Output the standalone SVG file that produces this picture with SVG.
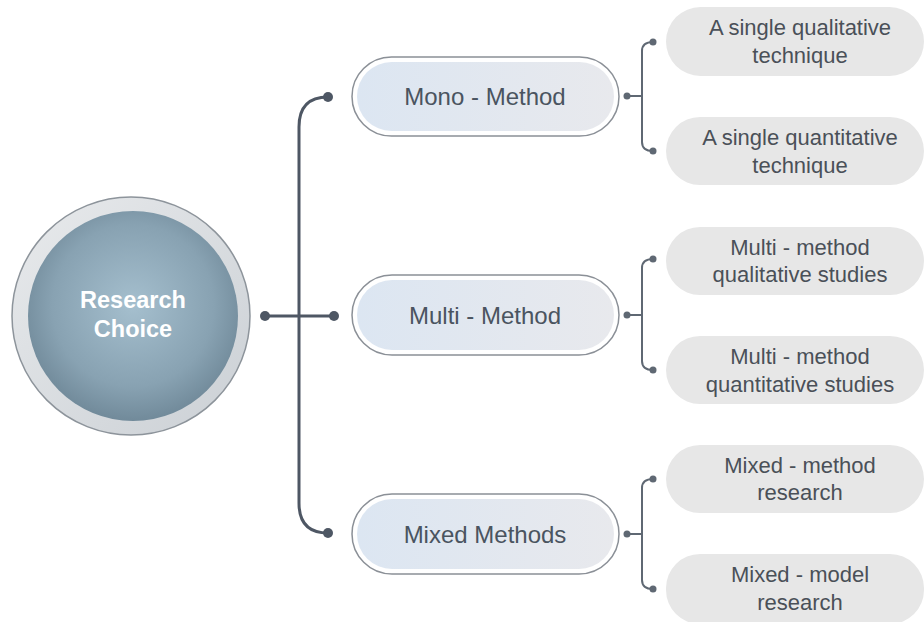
<svg xmlns="http://www.w3.org/2000/svg" width="924" height="622" viewBox="0 0 924 622">
<defs>
<radialGradient id="core" cx="0.5" cy="0.45" r="0.55">
<stop offset="0" stop-color="#a5bfce"/>
<stop offset="0.7" stop-color="#88a2b2"/>
<stop offset="1" stop-color="#718a9a"/>
</radialGradient>
<linearGradient id="ring" x1="0" y1="0" x2="1" y2="1">
<stop offset="0" stop-color="#e8eaec"/>
<stop offset="1" stop-color="#cbd0d5"/>
</linearGradient>
<linearGradient id="pill" x1="0" y1="0" x2="1" y2="0">
<stop offset="0" stop-color="#dce6f2"/>
<stop offset="1" stop-color="#e8e9ed"/>
</linearGradient>
<style>
.main{fill:none;stroke:#4e5764;stroke-width:3}
.dot{fill:#4e5764}
.br{fill:none;stroke:#5f6873;stroke-width:2}
.bdot{fill:#5f6873}
.po{fill:#ffffff;stroke:#8b9097;stroke-width:1.5}
.pi{fill:url(#pill)}
.pt{font-family:"Liberation Sans",Arial,sans-serif;font-size:24px;fill:#4a5460;text-anchor:middle}
.leaf{fill:#e7e7e7}
.lt{font-family:"Liberation Sans",Arial,sans-serif;font-size:22px;fill:#4a5058;text-anchor:middle}
</style>
</defs>
<rect width="924" height="622" fill="#ffffff"/>

<g id="connectors">
<path class="main" d="M328,97 C309,97 299,107 299,127 L299,503 C299,523 309,533 328,533"/>
<path class="main" d="M265,316 L334,316"/>
<circle class="dot" cx="265" cy="316" r="5"/>
<circle class="dot" cx="334" cy="316" r="5"/>
<circle class="dot" cx="328" cy="97" r="5"/>
<circle class="dot" cx="328" cy="533" r="5"/>

<path class="br" d="M627,96 L642,96 M653,42 C646,42 642,45 642,51 L642,142 C642,148 646,151 653,151"/>
<circle class="bdot" cx="627" cy="96" r="3.5"/>
<circle class="bdot" cx="653" cy="42" r="3.5"/>
<circle class="bdot" cx="653" cy="151" r="3.5"/>

<path class="br" d="M627,315 L642,315 M653,259 C646,259 642,262 642,268 L642,361 C642,367 646,370 653,370"/>
<circle class="bdot" cx="627" cy="315" r="3.5"/>
<circle class="bdot" cx="653" cy="259" r="3.5"/>
<circle class="bdot" cx="653" cy="370" r="3.5"/>

<path class="br" d="M627,534 L642,534 M653,479 C646,479 642,482 642,488 L642,580 C642,586 646,589 653,589"/>
<circle class="bdot" cx="627" cy="534" r="3.5"/>
<circle class="bdot" cx="653" cy="479" r="3.5"/>
<circle class="bdot" cx="653" cy="589" r="3.5"/>
</g>

<g id="research-choice">
<circle cx="131" cy="316" r="119" fill="url(#ring)" stroke="#8d949b" stroke-width="1.5"/>
<circle cx="133" cy="316" r="105" fill="url(#core)"/>
<text x="133" y="308" font-family="'Liberation Sans',Arial,sans-serif" font-size="23.5" font-weight="bold" fill="#ffffff" text-anchor="middle">Research</text>
<text x="133" y="337" font-family="'Liberation Sans',Arial,sans-serif" font-size="23.5" font-weight="bold" fill="#ffffff" text-anchor="middle">Choice</text>
</g>

<g id="mono-method">
<rect class="po" x="352" y="57" width="267" height="79" rx="39.5"/>
<rect class="pi" x="357" y="62" width="257" height="69" rx="34.5"/>
<text class="pt" x="485" y="105">Mono - Method</text>
</g>
<g id="multi-method">
<rect class="po" x="352" y="275" width="267" height="80" rx="40"/>
<rect class="pi" x="357" y="280" width="257" height="70" rx="35"/>
<text class="pt" x="485" y="324">Multi - Method</text>
</g>
<g id="mixed-methods">
<rect class="po" x="352" y="494" width="267" height="80" rx="40"/>
<rect class="pi" x="357" y="499" width="257" height="70" rx="35"/>
<text class="pt" x="485" y="543">Mixed Methods</text>
</g>

<g id="single-qualitative">
<rect class="leaf" x="666" y="7" width="258" height="69" rx="34.5"/>
<text class="lt" x="800" y="35">A single qualitative</text>
<text class="lt" x="800" y="63">technique</text>
</g>
<g id="single-quantitative">
<rect class="leaf" x="666" y="117" width="258" height="68" rx="34"/>
<text class="lt" x="800" y="145">A single quantitative</text>
<text class="lt" x="800" y="173">technique</text>
</g>
<g id="multi-qualitative">
<rect class="leaf" x="666" y="227" width="258" height="68" rx="34"/>
<text class="lt" x="800" y="255">Multi - method</text>
<text class="lt" x="800" y="282">qualitative studies</text>
</g>
<g id="multi-quantitative">
<rect class="leaf" x="666" y="336" width="258" height="68" rx="34"/>
<text class="lt" x="800" y="364">Multi - method</text>
<text class="lt" x="800" y="392">quantitative studies</text>
</g>
<g id="mixed-method-research">
<rect class="leaf" x="666" y="445" width="258" height="68" rx="34"/>
<text class="lt" x="800" y="473">Mixed - method</text>
<text class="lt" x="800" y="500">research</text>
</g>
<g id="mixed-model-research">
<rect class="leaf" x="666" y="554" width="258" height="70" rx="34"/>
<text class="lt" x="800" y="582">Mixed - model</text>
<text class="lt" x="800" y="610">research</text>
</g>
</svg>
